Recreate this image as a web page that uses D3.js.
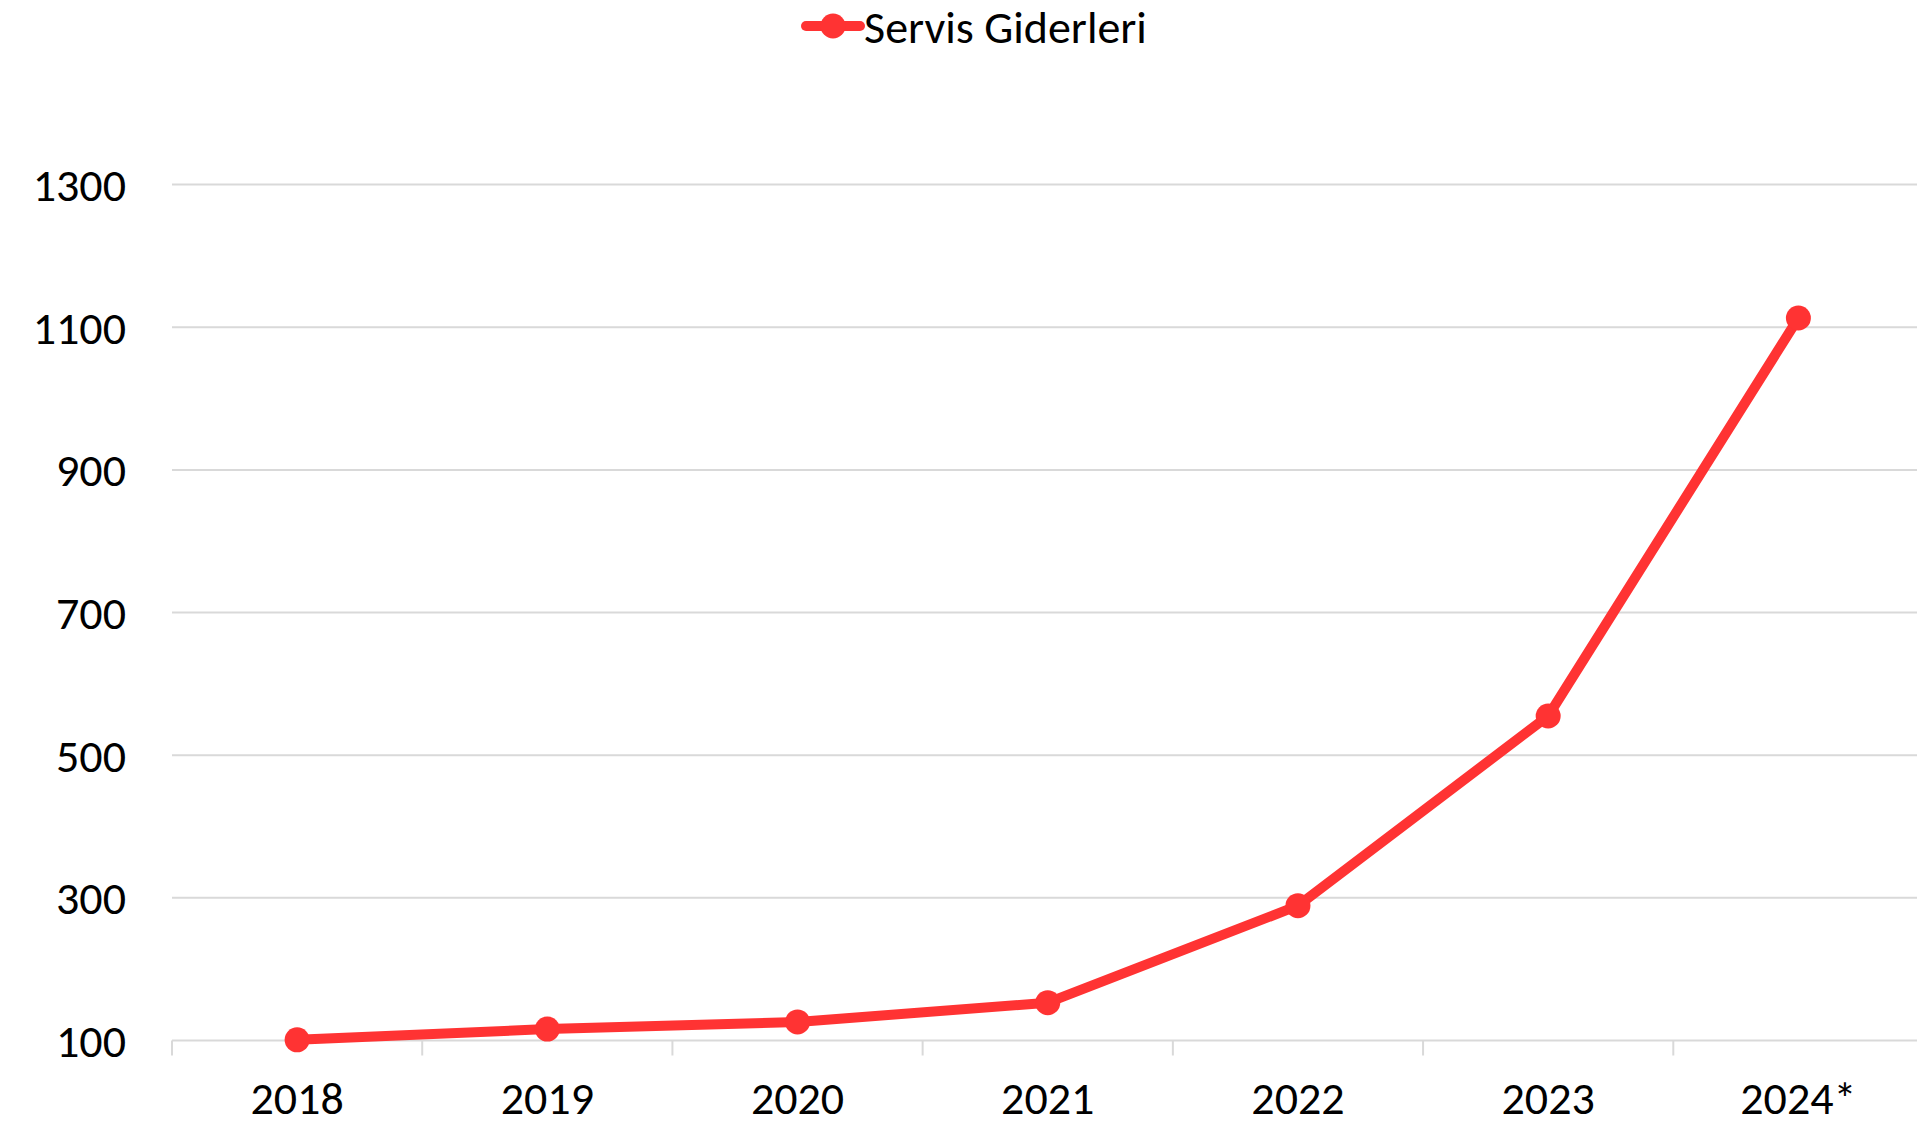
<!DOCTYPE html>
<html>
<head>
<meta charset="utf-8">
<script src="https://cdn.jsdelivr.net/npm/d3@7"></script>
<style>
  body { margin: 0; background: #fff; }
  svg { display: block; font-family: Carlito, Lato, "Liberation Sans", sans-serif; }
  .grid line { stroke: #d9d9d9; stroke-width: 2; }
</style>
</head>
<body>
<script>

var years = ["2018", "2019", "2020", "2021", "2022", "2023", "2024*"];
var servisGiderleri = [101, 116, 126, 153, 289, 555, 1113];
var yTicks = [100, 300, 500, 700, 900, 1100, 1300];
var seriesName = "Servis Giderleri";

var width = 1917,
	height = 1125;

var red = "#ff3333";
var fontSize = 46;

var svg = d3.select("body").append("svg")
	.attr("width", width)
	.attr("height", height);

var x = d3.scaleBand()
	.domain(years)
	.range([172, 1923.5]);

var y = d3.scaleLinear()
	.domain([100, 1300])
	.range([1040.5, 184.6]);

// horizontal gridlines
svg.append("g")
	.attr("class", "grid")
	.selectAll("line")
	.data(yTicks)
	.enter().append("line")
	.attr("x1", x.range()[0])
	.attr("x2", width)
	.attr("y1", function(d) { return y(d); })
	.attr("y2", function(d) { return y(d); });

// y labels
svg.append("g")
	.selectAll("text")
	.data(yTicks)
	.enter().append("text")
	.attr("x", 126)
	.attr("y", function(d) { return y(d); })
	.attr("dy", "0.36em")
	.attr("text-anchor", "end")
	.attr("font-size", fontSize)
	.attr("fill", "#000")
	.text(function(d) { return d; });

// x axis tick marks (category boundaries)
var bounds = years.map(function(d) { return x(d); });
svg.append("g")
	.selectAll("line")
	.data(bounds)
	.enter().append("line")
	.attr("x1", function(d) { return d; })
	.attr("x2", function(d) { return d; })
	.attr("y1", y(100))
	.attr("y2", y(100) + 15)
	.attr("stroke", "#d9d9d9")
	.attr("stroke-width", 2);

// x labels
svg.append("g")
	.selectAll("text")
	.data(years)
	.enter().append("text")
	.attr("x", function(d) { return x(d) + x.bandwidth() / 2; })
	.attr("y", 1114)
	.attr("text-anchor", "middle")
	.attr("font-size", fontSize)
	.attr("fill", "#000")
	.text(function(d) { return d; });

var pts = years.map(function(d, i) { return [x(d) + x.bandwidth() / 2, y(servisGiderleri[i])]; });

svg.append("path")
	.datum(pts)
	.attr("d", d3.line())
	.attr("fill", "none")
	.attr("stroke", red)
	.attr("stroke-width", 10)
	.attr("stroke-linejoin", "round")
	.attr("stroke-linecap", "round");

svg.append("g")
	.selectAll("circle")
	.data(pts)
	.enter().append("circle")
	.attr("cx", function(d) { return d[0]; })
	.attr("cy", function(d) { return d[1]; })
	.attr("r", 12.5)
	.attr("fill", red);

// legend
var lg = svg.append("g");
lg.append("line")
	.attr("x1", 806).attr("x2", 860)
	.attr("y1", 26).attr("y2", 26)
	.attr("stroke", red)
	.attr("stroke-width", 10)
	.attr("stroke-linecap", "round");
lg.append("circle")
	.attr("cx", 833).attr("cy", 26)
	.attr("r", 12.5)
	.attr("fill", red);
lg.append("text")
	.attr("x", 864)
	.attr("y", 26)
	.attr("dy", "0.36em")
	.attr("font-size", fontSize)
	.attr("fill", "#000")
	.text(seriesName);

</script>
</body>
</html>
